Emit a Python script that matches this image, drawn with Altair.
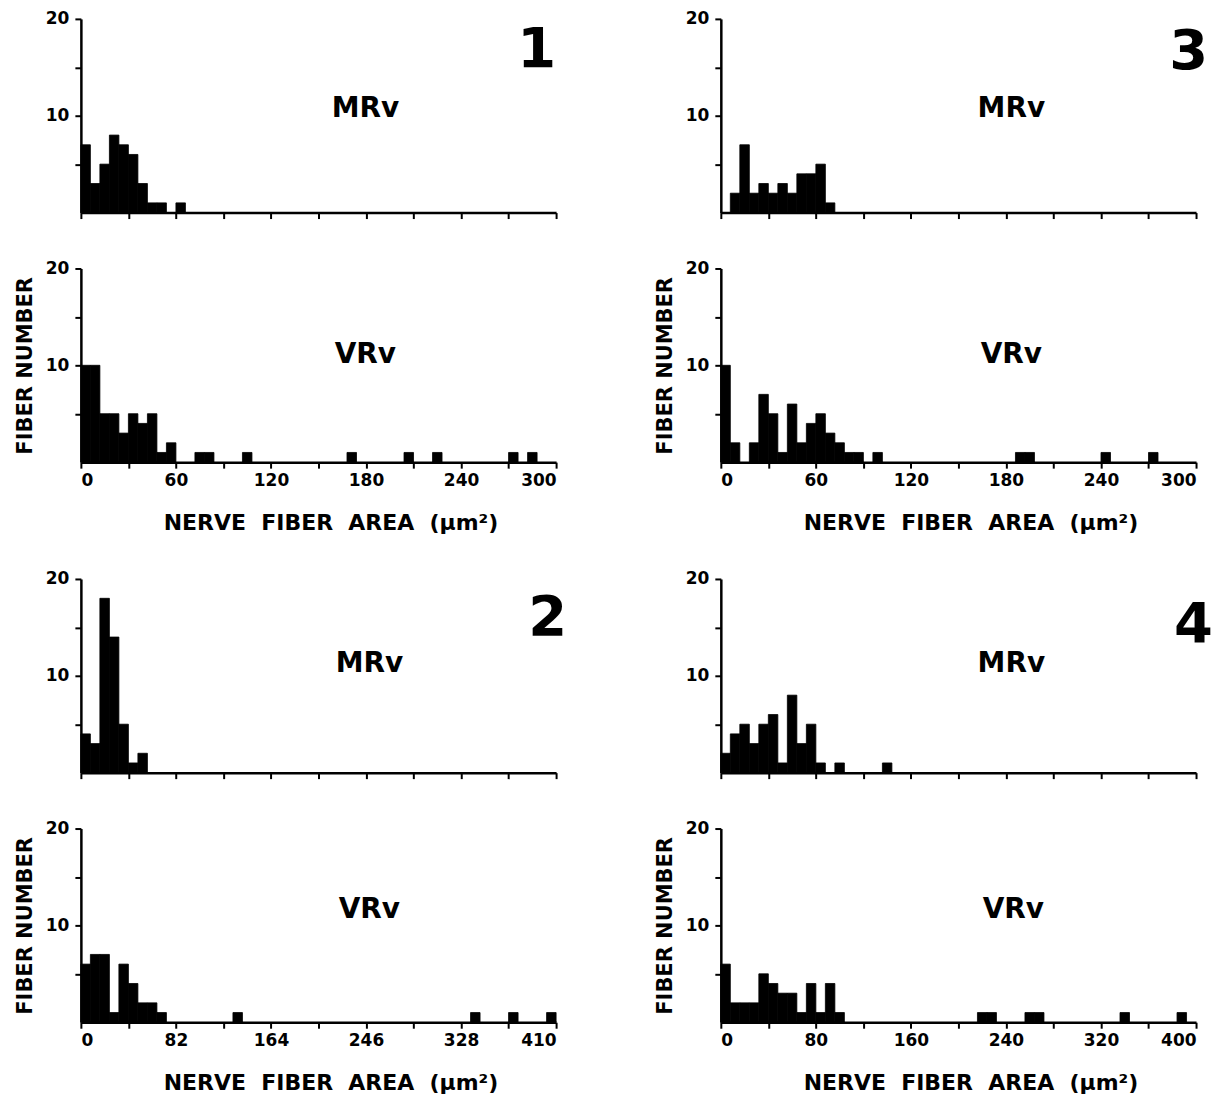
import altair as alt
import pandas as pd

# ---------------- data (counts per bin) ----------------
# Panel 1 / 3: bins of 6 um^2, axis 0-300 ; Panel 2: bins of 8.2, axis 0-410 ; Panel 4: bins of 8, axis 0-400
P1_BIN = 6
P1_MRV = [7, 3, 5, 8, 7, 6, 3, 1, 1, 0, 1]
P1_VRV = [10, 10, 5, 5, 3, 5, 4, 5, 1, 2, 0, 0, 1, 1, 0, 0, 0, 1, 0, 0,
          0, 0, 0, 0, 0, 0, 0, 0, 1, 0, 0, 0, 0, 0, 1, 0, 0, 1, 0, 0,
          0, 0, 0, 0, 0, 1, 0, 1]

P2_BIN = 8.2
P2_MRV = [4, 3, 18, 14, 5, 1, 2]
P2_VRV = [6, 7, 7, 1, 6, 4, 2, 2, 1, 0, 0, 0, 0, 0, 0, 0, 1, 0, 0, 0,
          0, 0, 0, 0, 0, 0, 0, 0, 0, 0, 0, 0, 0, 0, 0, 0, 0, 0, 0, 0,
          0, 1, 0, 0, 0, 1, 0, 0, 0, 1]

P3_BIN = 6
P3_MRV = [0, 2, 7, 2, 3, 2, 3, 2, 4, 4, 5, 1]
P3_VRV = [10, 2, 0, 2, 7, 5, 1, 6, 2, 4, 5, 3, 2, 1, 1, 0, 1, 0, 0, 0,
          0, 0, 0, 0, 0, 0, 0, 0, 0, 0, 0, 1, 1, 0, 0, 0, 0, 0, 0, 0,
          1, 0, 0, 0, 0, 1]

P4_BIN = 8
P4_MRV = [2, 4, 5, 3, 5, 6, 1, 8, 3, 5, 1, 0, 1, 0, 0, 0, 0, 1]
P4_VRV = [6, 2, 2, 2, 5, 4, 3, 3, 1, 4, 1, 4, 1, 0, 0, 0, 0, 0, 0, 0,
          0, 0, 0, 0, 0, 0, 0, 1, 1, 0, 0, 0, 1, 1, 0, 0, 0, 0, 0, 0,
          0, 0, 1, 0, 0, 0, 0, 0, 1]

TICKS_300 = [0, 30, 60, 90, 120, 150, 180, 210, 240, 270, 300]
TICKS_410 = [0, 41, 82, 123, 164, 205, 246, 287, 328, 369, 410]
TICKS_400 = [0, 40, 80, 120, 160, 200, 240, 280, 320, 360, 400]
Y_TICKS = [5, 10, 15, 20]

PANEL_NUMBERS = ["1", "2", "3", "4"]
TAGS = ["MRv", "VRv"]
GAP = "\u00a0" * 2
X_TITLE = GAP.join(["NERVE", "FIBER", "AREA", "(μm²)"])
Y_TITLE = "FIBER NUMBER"

FONT = "DejaVu Sans"
W, H = 476, 194


def hist(counts, binw, xmax, ticks, label_step, tag, top, lab_xy, number=None, num_xy=(0, 0)):
    rows = [{"start": i * binw, "end": (i + 1) * binw, "count": c}
            for i, c in enumerate(counts) if c > 0]
    df = pd.DataFrame(rows)
    if top:
        xaxis = alt.Axis(values=ticks, labels=False, title=None)
    else:
        xaxis = alt.Axis(values=ticks, format="d",
                         labelExpr=f"datum.value % {label_step} == 0 ? datum.label : ''",
                         title=X_TITLE, titlePadding=24, titleFontSize=22, titleX=250)
    yaxis = alt.Axis(values=Y_TICKS,
                     labelExpr="datum.value % 10 == 0 ? datum.label : ''",
                     labelPadding=6,
                     title=Y_TITLE, titleColor="white" if top else "black")
    bars = alt.Chart(df).mark_bar(color="black", stroke="black", strokeWidth=0.8).encode(
        x=alt.X("start:Q", scale=alt.Scale(domain=[0, xmax], nice=False, zero=True), axis=xaxis),
        x2="end:Q",
        y=alt.Y("count:Q", scale=alt.Scale(domain=[0, 20], nice=False), axis=yaxis),
        y2=alt.datum(0),
    )
    label = alt.Chart(pd.DataFrame({"t": [tag]})).mark_text(
        font=FONT, fontWeight="bold", fontSize=28, color="black", align="center", baseline="middle"
    ).encode(text="t:N", x=alt.value(lab_xy[0]), y=alt.value(lab_xy[1]))
    layers = [bars, label]
    if number is not None:
        num = alt.Chart(pd.DataFrame({"n": [number]})).mark_text(
            font=FONT, fontWeight="bold", fontSize=56, color="black", align="right",
            baseline="alphabetic"
        ).encode(text="n:N", x=alt.value(num_xy[0]), y=alt.value(num_xy[1]))
        layers.append(num)
    return alt.layer(*layers).properties(width=W, height=H)


def panel(mrv, vrv, binw, xmax, ticks, step, number, num_xy, lab_top, lab_bot):
    top = hist(mrv, binw, xmax, ticks, step, TAGS[0], True, lab_top, number, num_xy)
    bot = hist(vrv, binw, xmax, ticks, step, TAGS[1], False, lab_bot)
    return alt.vconcat(top, bot, spacing=40)


p1 = panel(P1_MRV, P1_VRV, P1_BIN, 300, TICKS_300, 60, PANEL_NUMBERS[0], (476, 48), (285, 90), (285, 87))
p3 = panel(P3_MRV, P3_VRV, P3_BIN, 300, TICKS_300, 60, PANEL_NUMBERS[2], (488, 50), (291, 90), (291, 87))
p2 = panel(P2_MRV, P2_VRV, P2_BIN, 410, TICKS_410, 82, PANEL_NUMBERS[1], (487, 56), (289, 85), (289, 82))
p4 = panel(P4_MRV, P4_VRV, P4_BIN, 400, TICKS_400, 80, PANEL_NUMBERS[3], (493, 63), (291, 85), (293, 82))

chart = alt.concat(p1, p3, p2, p4, columns=2, spacing={"row": 37, "column": 87}).properties(
    padding={"left": 6, "top": 1, "right": 5, "bottom": 5}
).configure_view(strokeWidth=0).configure_axis(
    grid=False, domainColor="black", domainWidth=2.5, tickColor="black", tickWidth=2,
    tickSize=6, labelFont=FONT, labelFontSize=17, labelFontWeight="bold", labelColor="black",
    labelPadding=4, titleFont=FONT, titleFontSize=21, titleFontWeight="bold",
    titlePadding=10
).configure_axisY(titleFontSize=21)

chart.save("out.html", embed_options={"renderer": "svg", "actions": False})
